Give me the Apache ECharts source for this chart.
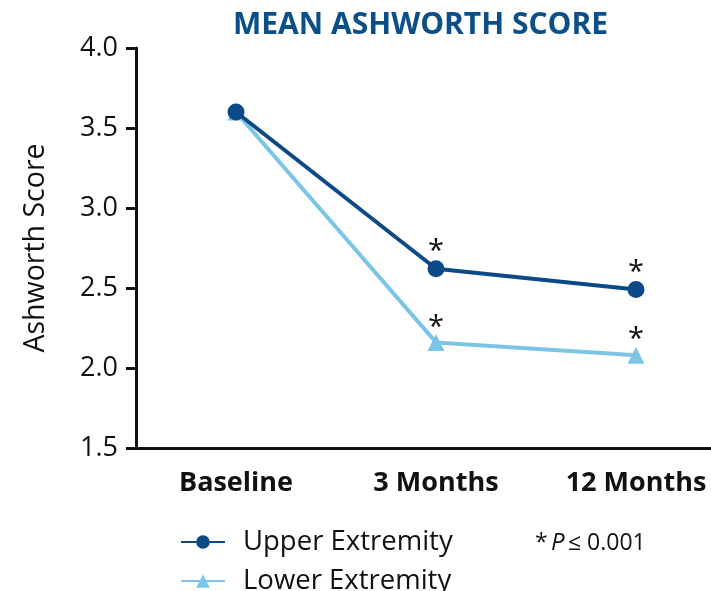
<!DOCTYPE html>
<html>
<head>
<meta charset="utf-8">
<script src="https://cdn.jsdelivr.net/npm/echarts@6/dist/echarts.min.js"></script>
<style>
html,body{margin:0;padding:0;background:#fff;}
#chart{width:711px;height:591px;}
</style>
</head>
<body>
<div id="chart"></div>
<script>
var categories = ['Baseline', '3 Months', '12 Months'];
var upperExtremity = [3.6, 2.62, 2.49];
var lowerExtremity = [3.6, 2.16, 2.08];
var significance = ['', '*', '*'];
var yTicks = { min: 1.5, max: 4.0, interval: 0.5 };
var titleText = 'MEAN ASHWORTH SCORE';
var yAxisName = 'Ashworth Score';
var seriesNames = ['Upper Extremity', 'Lower Extremity'];

var FONT = '"Open Sans", sans-serif';
var darkBlue = '#0c4a87';
var lightBlue = '#7cc5e6';

var chart = echarts.init(document.getElementById('chart'), null, {renderer: 'canvas'});

function starLabel(dist) {
  return {
    show: true,
    position: 'top',
    distance: dist,
    color: '#111',
    fontFamily: FONT,
    fontSize: 29,
    formatter: function (p) { return significance[p.dataIndex]; }
  };
}

function legendItem(name, top) {
  return {
    orient: 'vertical',
    left: 175,
    top: top,
    itemWidth: 44,
    itemHeight: 17,
    data: [name],
    textStyle: { fontFamily: FONT, fontSize: 27.5, color: '#111', padding: [0, 0, 0, 13] }
  };
}

var option = {
  animation: false,
  backgroundColor: '#fff',
  title: {
    text: titleText,
    left: 233,
    top: 10,
    padding: 0,
    textStyle: { fontFamily: FONT, fontWeight: 'bold', fontSize: 30, color: '#0b4f8a' }
  },
  grid: { left: 136, top: 48, width: 600, bottom: 143, containLabel: false, outerBoundsMode: 'none' },
  xAxis: {
    type: 'category',
    data: categories,
    boundaryGap: true,
    axisLine: { lineStyle: { color: '#111', width: 3 } },
    axisTick: { show: false },
    axisLabel: { fontFamily: FONT, fontWeight: 'bold', fontSize: 27, color: '#111', margin: 22 },
    splitLine: { show: false }
  },
  yAxis: {
    type: 'value',
    min: yTicks.min,
    max: yTicks.max,
    interval: yTicks.interval,
    name: yAxisName,
    nameLocation: 'middle',
    nameRotate: 90,
    nameGap: 86,
    nameTextStyle: { fontFamily: FONT, fontSize: 28.5, color: '#111' },
    axisLine: { show: true, lineStyle: { color: '#111', width: 3 } },
    axisTick: { show: true, length: 10, lineStyle: { color: '#111', width: 3 } },
    axisLabel: { fontFamily: FONT, fontSize: 27, color: '#111', margin: 18, formatter: function (v) { return v.toFixed(1); } },
    splitLine: { show: false }
  },
  legend: [legendItem(seriesNames[0], 523), legendItem(seriesNames[1], 562)],
  graphic: [{
    type: 'text',
    left: 535,
    top: 531,
    style: {
      text: '{a|*} {p|P} {b|\u2264 0.001}',
      rich: {
        a: { fontFamily: FONT, fontSize: 23, fill: '#111' },
        p: { fontFamily: FONT, fontSize: 24, fontStyle: 'italic', fill: '#111' },
        b: { fontFamily: FONT, fontSize: 23, fill: '#111' }
      }
    }
  }],
  series: [
    {
      name: seriesNames[0],
      type: 'line',
      data: upperExtremity,
      symbol: 'circle',
      symbolSize: 17,
      lineStyle: { color: darkBlue, width: 4 },
      itemStyle: { color: darkBlue },
      label: starLabel(-6),
      z: 3
    },
    {
      name: seriesNames[1],
      type: 'line',
      data: lowerExtremity,
      symbol: 'triangle',
      symbolSize: 17,
      lineStyle: { color: lightBlue, width: 4 },
      itemStyle: { color: lightBlue },
      label: starLabel(-8),
      z: 2
    }
  ]
};
chart.setOption(option);
</script>
</body>
</html>
